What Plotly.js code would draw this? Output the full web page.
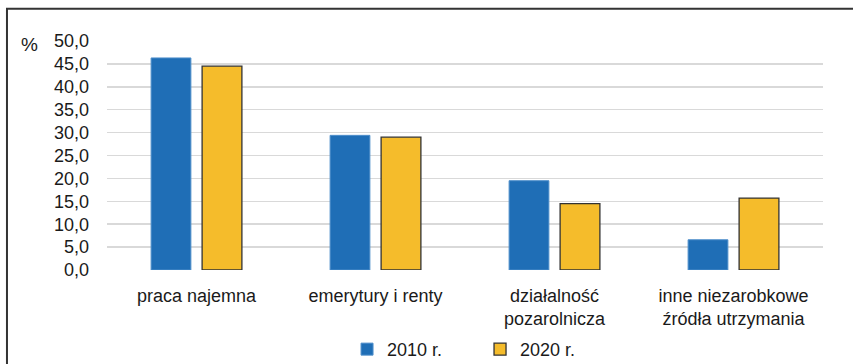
<!DOCTYPE html>
<html>
<head>
<meta charset="utf-8">
<script src="https://cdn.plot.ly/plotly-3.0.1.min.js"></script>
<style>html,body{margin:0;padding:0;background:#fff;}#chart{width:853px;height:364px;}</style>
</head>
<body>
<div id="chart"></div>
<script>
const categories = ["praca najemna", "emerytury i renty", "działalność<br>pozarolnicza", "inne niezarobkowe<br>źródła utrzymania"];
const series2010 = [46.3, 29.4, 19.5, 6.6];
const series2020 = [44.5, 29.0, 14.5, 15.7];
const yTicks = [0, 5, 10, 15, 20, 25, 30, 35, 40, 45, 50];
const font = "Liberation Sans, Arial, sans-serif";

const traces = [
  {type: "bar", name: "2010 r.", x: categories, y: series2010,
   marker: {color: "#1F6EB6", line: {color: "#4F8FCB", width: 1}}},
  {type: "bar", name: "2020 r.", x: categories, y: series2020,
   marker: {color: "#F5BC2B", line: {color: "#333333", width: 1.3}}}
];

const layout = {
  width: 853, height: 364,
  margin: {l: 107, r: 30, t: 41, b: 94, autoexpand: false},
  paper_bgcolor: "#ffffff", plot_bgcolor: "#ffffff",
  separators: ", ",
  font: {family: font, size: 18, color: "#1a1a1a"},
  barmode: "group", bargap: 0.43, bargroupgap: 0.22,
  showlegend: true,
  legend: {orientation: "h", x: 0.521, xanchor: "center", xref: "paper", yref: "container", y: 0.04, yanchor: "middle",
           font: {family: font, size: 18, color: "#1a1a1a"}, entrywidth: 88, entrywidthmode: "pixels", itemwidth: 30},
  xaxis: {showgrid: false, zeroline: false, showline: false, ticks: "", tickfont: {size: 18}, ticklabelstandoff: 13},
  yaxis: {range: [0, 50], tickvals: yTicks, tickformat: ".1f", showgrid: true, gridcolor: "#d9d9d9", gridwidth: 1.5,
          zeroline: false, showline: false, ticks: "", tickfont: {size: 18}, ticklabelstandoff: 17, fixedrange: true},
  annotations: [{text: "%", xref: "paper", yref: "paper", x: -0.108, y: 0.985, xanchor: "center", yanchor: "middle",
                 showarrow: false, font: {family: font, size: 19, color: "#1a1a1a"}}],
  shapes: [{type: "path", xref: "paper", yref: "paper", path: "M -0.1397 -0.5 L -0.1397 1.1404 L 1.1 1.1404",
            line: {color: "#333333", width: 2}}]
};

Plotly.newPlot("chart", traces, layout, {displayModeBar: false, staticPlot: true});
</script>
</body>
</html>
